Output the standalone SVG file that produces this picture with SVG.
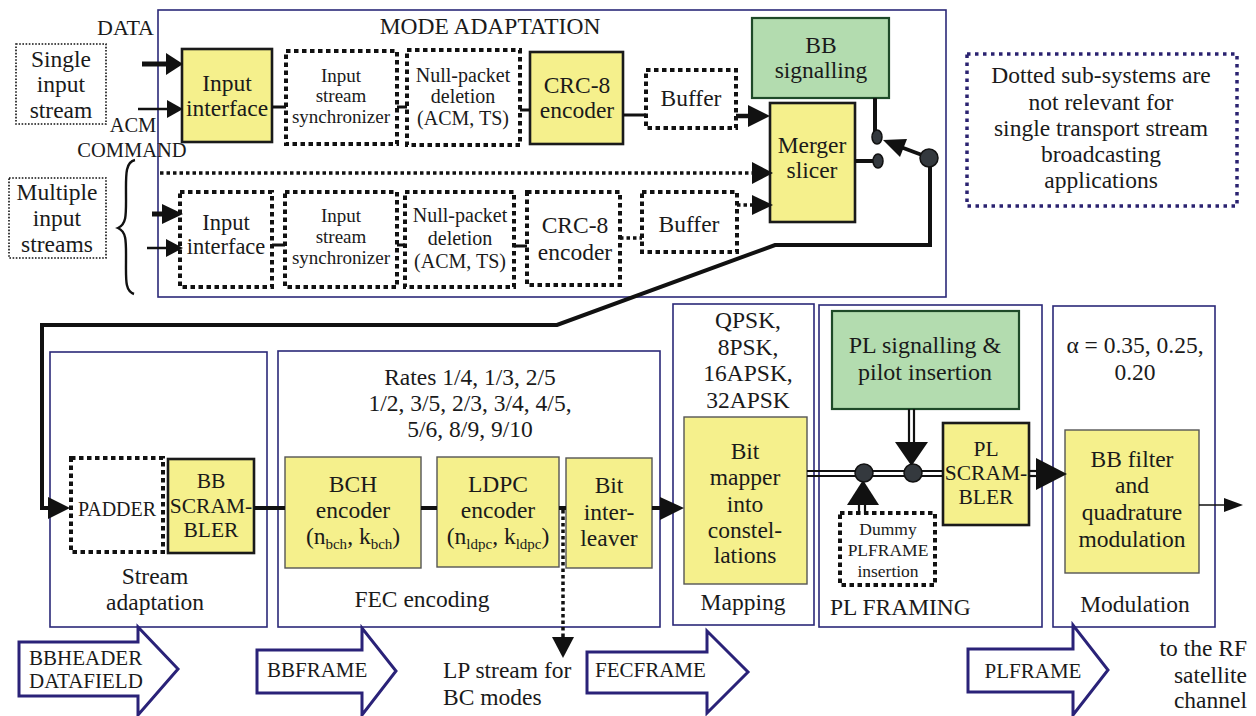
<svg xmlns="http://www.w3.org/2000/svg" width="1256" height="716" viewBox="0 0 1256 716">
<style>
  .t { font-family: "Liberation Serif", Tinos, "DejaVu Serif", "Times New Roman", serif; fill: #1a1a1a; text-anchor: middle; font-size: 23.5px; }
  .s19 { font-size: 19px; }
  .s20 { font-size: 20px; }
  .s21 { font-size: 21px; }
  .s18 { font-size: 17.5px; }
  .st { text-anchor: start; }
  .en { text-anchor: end; }
  .yb { fill: #f5f08c; stroke: #1a1a1a; stroke-width: 2.6; }
  .yl { fill: #f5f08c; stroke: #555; stroke-width: 1.4; }
  .gb { fill: #b3dcaf; stroke: #1e4a28; stroke-width: 2.2; }
  .sec { fill: none; stroke: #2b2878; stroke-width: 1.6; }
  .dot { fill: none; stroke: #111; stroke-width: 4; stroke-dasharray: 4.5 3.5; }
  .tdot { fill: none; stroke: #111; stroke-width: 1.6; stroke-dasharray: 1.6 1.6; }
  .note { fill: none; stroke: #2a2270; stroke-width: 3.5; stroke-dasharray: 3.5 4.5; }
  .frame { fill: #fff; stroke: #2a2278; stroke-width: 3; stroke-linejoin: miter; }
  .w { stroke: #111; stroke-width: 4; fill: none; }
  .w3 { stroke: #111; stroke-width: 3; fill: none; }
  .wd { stroke: #111; stroke-width: 3.5; stroke-dasharray: 3.5 3; fill: none; }
  .hd { fill: #111; }
  .knob { fill: #34393e; stroke: #111; stroke-width: 1.5; }
</style>

<!-- section frames -->
<g id="mode-adaptation">
  <rect class="sec" x="158" y="10" width="788" height="287"/>
  <text class="t" x="490" y="34">MODE ADAPTATION</text>
</g>
<g id="stream-adaptation">
  <rect class="sec" x="50" y="352" width="217" height="275"/>
  <text class="t" x="155" y="584">Stream</text>
  <text class="t" x="155" y="610">adaptation</text>
</g>
<g id="fec-encoding">
  <rect class="sec" x="278" y="351" width="382" height="276"/>
  <text class="t" x="470" y="385">Rates 1/4, 1/3, 2/5</text>
  <text class="t" x="470" y="411">1/2, 3/5, 2/3, 3/4, 4/5,</text>
  <text class="t" x="470" y="437">5/6, 8/9, 9/10</text>
  <text class="t" x="422" y="607">FEC encoding</text>
</g>
<g id="mapping">
  <rect class="sec" x="673" y="304" width="141" height="321"/>
  <text class="t" x="748" y="328">QPSK,</text>
  <text class="t" x="748" y="355">8PSK,</text>
  <text class="t" x="748" y="381">16APSK,</text>
  <text class="t" x="748" y="408">32APSK</text>
  <text class="t" x="743" y="610">Mapping</text>
</g>
<g id="pl-framing">
  <rect class="sec" x="819" y="305" width="223" height="322"/>
  <text class="t st" x="830" y="615">PL FRAMING</text>
</g>
<g id="modulation">
  <rect class="sec" x="1053" y="306" width="162" height="321"/>
  <text class="t" x="1135" y="353">α = 0.35, 0.25,</text>
  <text class="t" x="1135" y="380">0.20</text>
  <text class="t" x="1135" y="612">Modulation</text>
</g>

<!-- free labels -->
<g id="labels">
  <text class="t en" x="154" y="35" style="font-size:22px">DATA</text>
  <text class="t" x="133" y="132" style="font-size:20.5px">ACM</text>
  <text class="t" x="132" y="157" style="font-size:20.5px">COMMAND</text>
  <text class="t st" x="443" y="678">LP stream for</text>
  <text class="t st" x="443" y="705">BC modes</text>
  <text class="t en" x="1247" y="656">to the RF</text>
  <text class="t en" x="1247" y="683">satellite</text>
  <text class="t en" x="1247" y="708">channel</text>
</g>

<!-- input sources -->
<g id="single-input">
  <rect class="tdot" x="16" y="44" width="90" height="80"/>
  <text class="t" x="61" y="67">Single</text>
  <text class="t" x="61" y="92">input</text>
  <text class="t" x="61" y="118">stream</text>
</g>
<g id="multiple-input">
  <rect class="tdot" x="9" y="178" width="97" height="80"/>
  <text class="t" x="57" y="200">Multiple</text>
  <text class="t" x="57" y="226">input</text>
  <text class="t" x="57" y="252">streams</text>
  <path d="M135,160 C125,162 126,176 126,194 C126,214 127,224 118,228 C127,232 126,242 126,262 C126,280 125,291 134,294" fill="none" stroke="#111" stroke-width="2.4"/>
</g>

<!-- upper chain -->
<g id="input-interface">
  <rect class="yb" x="182" y="49" width="90" height="93"/>
  <text class="t" x="227" y="91" style="font-size:23.5px">Input</text>
  <text class="t" x="227" y="116" style="font-size:23.5px">interface</text>
</g>
<g id="sync">
  <rect class="dot" x="286" y="51" width="111" height="93"/>
  <text class="t s19" x="341" y="82">Input</text>
  <text class="t s19" x="341" y="102">stream</text>
  <text class="t s19" x="341" y="123">synchronizer</text>
</g>
<g id="null-packet">
  <rect class="dot" x="407" y="50" width="113" height="95"/>
  <text class="t s20" x="463" y="82">Null-packet</text>
  <text class="t s20" x="463" y="103">deletion</text>
  <text class="t s20" x="463" y="125">(ACM, TS)</text>
</g>
<g id="crc8">
  <rect class="yb" x="530" y="52" width="93" height="92"/>
  <text class="t" x="577" y="93">CRC-8</text>
  <text class="t" x="577" y="118">encoder</text>
</g>
<g id="buffer">
  <rect class="dot" x="646" y="70" width="90" height="58"/>
  <text class="t" x="691" y="106">Buffer</text>
</g>
<g id="bb-signalling">
  <rect class="gb" x="752" y="18" width="137" height="80"/>
  <text class="t" x="821" y="53">BB</text>
  <text class="t" x="821" y="78">signalling</text>
</g>
<g id="merger">
  <rect class="yb" x="770" y="103" width="85" height="119"/>
  <text class="t" x="812" y="153">Merger</text>
  <text class="t" x="812" y="178">slicer</text>
</g>

<!-- lower chain -->
<g id="input-interface-2">
  <rect class="dot" x="180" y="192" width="92" height="95"/>
  <text class="t" x="226" y="230" style="font-size:22.5px">Input</text>
  <text class="t" x="226" y="254" style="font-size:22.5px">interface</text>
</g>
<g id="sync-2">
  <rect class="dot" x="285" y="192" width="112" height="95"/>
  <text class="t s19" x="341" y="222">Input</text>
  <text class="t s19" x="341" y="243">stream</text>
  <text class="t s19" x="341" y="264">synchronizer</text>
</g>
<g id="null-packet-2">
  <rect class="dot" x="405" y="192" width="109" height="95"/>
  <text class="t s20" x="460" y="222">Null-packet</text>
  <text class="t s20" x="460" y="245">deletion</text>
  <text class="t s20" x="460" y="268">(ACM, TS)</text>
</g>
<g id="crc8-2">
  <rect class="dot" x="527" y="192" width="93" height="93"/>
  <text class="t" x="575" y="233">CRC-8</text>
  <text class="t" x="575" y="260">encoder</text>
</g>
<g id="buffer-2">
  <rect class="dot" x="642" y="192" width="95" height="60"/>
  <text class="t" x="689" y="232">Buffer</text>
</g>

<g id="note">
  <rect class="note" x="967" y="54" width="270" height="152"/>
  <text class="t" x="1101" y="83">Dotted sub-systems are</text>
  <text class="t" x="1101" y="110">not relevant for</text>
  <text class="t" x="1101" y="136">single transport stream</text>
  <text class="t" x="1101" y="162">broadcasting</text>
  <text class="t" x="1101" y="188">applications</text>
</g>

<!-- physical layer chain -->
<g id="padder">
  <rect class="dot" x="71" y="458" width="92" height="94"/>
  <text class="t s20" x="117" y="516">PADDER</text>
</g>
<g id="bb-scrambler">
  <rect class="yb" x="168" y="459" width="86" height="94"/>
  <text class="t" x="211" y="488" style="font-size:21.5px">BB</text>
  <text class="t" x="211" y="513" style="font-size:21.5px">SCRAM-</text>
  <text class="t" x="211" y="537" style="font-size:21.5px">BLER</text>
</g>
<g id="bch">
  <rect class="yl" x="285" y="457" width="136" height="111"/>
  <text class="t" x="353" y="492">BCH</text>
  <text class="t" x="353" y="518">encoder</text>
  <text class="t" x="353" y="544">(n<tspan dy="5" font-size="15">bch</tspan><tspan dy="-5">, k</tspan><tspan dy="5" font-size="15">bch</tspan><tspan dy="-5">)</tspan></text>
</g>
<g id="ldpc">
  <rect class="yl" x="437" y="457" width="122" height="110"/>
  <text class="t" x="498" y="492">LDPC</text>
  <text class="t" x="498" y="518">encoder</text>
  <text class="t" x="498" y="544">(n<tspan dy="5" font-size="15">ldpc</tspan><tspan dy="-5">, k</tspan><tspan dy="5" font-size="15">ldpc</tspan><tspan dy="-5">)</tspan></text>
</g>
<g id="interleaver">
  <rect class="yl" x="566" y="458" width="86" height="110"/>
  <text class="t" x="609" y="493">Bit</text>
  <text class="t" x="609" y="520">inter-</text>
  <text class="t" x="609" y="546">leaver</text>
</g>
<g id="bit-mapper">
  <rect class="yl" x="684" y="417" width="123" height="167"/>
  <text class="t" x="745" y="459">Bit</text>
  <text class="t" x="745" y="485">mapper</text>
  <text class="t" x="745" y="512">into</text>
  <text class="t" x="745" y="538">constel-</text>
  <text class="t" x="745" y="563">lations</text>
</g>
<g id="pl-signalling">
  <rect class="gb" x="832" y="311" width="187" height="98"/>
  <text class="t" x="925" y="353" style="font-size:24px">PL signalling &amp;</text>
  <text class="t" x="925" y="380" style="font-size:24px">pilot insertion</text>
</g>
<g id="dummy-plframe">
  <rect class="dot" x="840" y="513" width="95" height="72"/>
  <text class="t s18" x="888" y="535">Dummy</text>
  <text class="t s18" x="888" y="556">PLFRAME</text>
  <text class="t s18" x="888" y="577">insertion</text>
</g>
<g id="pl-scrambler">
  <rect class="yb" x="943" y="423" width="86" height="102"/>
  <text class="t" x="986" y="456" style="font-size:21.5px">PL</text>
  <text class="t" x="986" y="480" style="font-size:21.5px">SCRAM-</text>
  <text class="t" x="986" y="504" style="font-size:21.5px">BLER</text>
</g>
<g id="bb-filter">
  <rect class="yl" x="1065" y="430" width="134" height="143"/>
  <text class="t" x="1132" y="467">BB filter</text>
  <text class="t" x="1132" y="493">and</text>
  <text class="t" x="1132" y="520">quadrature</text>
  <text class="t" x="1132" y="547">modulation</text>
</g>

<!-- frame format arrows -->
<g id="bbheader-arrow">
  <polygon class="frame" points="19,642 138,642 138,627 178,669 138,715 138,696 19,696"/>
  <text class="t st s21" x="29" y="665">BBHEADER</text>
  <text class="t st s21" x="29" y="688">DATAFIELD</text>
</g>
<g id="bbframe-arrow">
  <polygon class="frame" points="257,650 362,650 362,628 396,671 362,715 362,693 257,693"/>
  <text class="t st s21" x="267" y="677">BBFRAME</text>
</g>
<g id="fecframe-arrow">
  <polygon class="frame" points="587,652 707,652 707,631 748,672 707,713 707,693 587,693"/>
  <text class="t st s21" x="595" y="677">FECFRAME</text>
</g>
<g id="plframe-arrow">
  <polygon class="frame" points="968,649 1073,649 1073,625 1108,670 1073,715 1073,692 968,692"/>
  <text class="t s21" x="1033" y="678">PLFRAME</text>
</g>

<g id="connectors">
  <!-- inputs, upper chain -->
  <line x1="142" y1="64" x2="168" y2="64" stroke="#111" stroke-width="5"/>
  <polygon class="hd" points="166,53 166,75 183,64"/>
  <line x1="138" y1="109" x2="170" y2="109" stroke="#111" stroke-width="2.5"/>
  <polygon class="hd" points="167,100 167,118 183,109"/>
  <line class="w3" x1="272" y1="107" x2="286" y2="107"/>
  <line class="w3" x1="397" y1="107" x2="407" y2="107"/>
  <line class="w3" x1="520" y1="110" x2="530" y2="110"/>
  <line class="w3" x1="623" y1="115" x2="646" y2="115"/>
  <line x1="736" y1="116" x2="752" y2="116" stroke="#111" stroke-width="4.5"/>
  <polygon class="hd" points="748,105 748,127 770,116"/>
  <!-- ACM command -->
  <line class="wd" x1="160" y1="173" x2="752" y2="173"/>
  <polygon class="hd" points="752,162 752,184 773,173"/>
  <!-- inputs, lower chain -->
  <line x1="152" y1="214" x2="165" y2="214" stroke="#111" stroke-width="5"/>
  <polygon class="hd" points="162,204 162,224 183,214"/>
  <line x1="147" y1="248" x2="168" y2="248" stroke="#111" stroke-width="2.5"/>
  <polygon class="hd" points="166,239 166,257 183,248"/>
  <line class="w3" x1="272" y1="245" x2="285" y2="245"/>
  <line class="w3" x1="397" y1="245" x2="405" y2="245"/>
  <line class="w3" x1="514" y1="246" x2="527" y2="246"/>
  <line class="wd" x1="620" y1="238" x2="642" y2="238"/>
  <line class="wd" x1="737" y1="205" x2="752" y2="205"/>
  <polygon class="hd" points="752,195 752,215 773,205"/>
  <!-- merger / signalling switch -->
  <line class="w" x1="875" y1="98" x2="875" y2="132" stroke-width="3.5"/>
  <line class="w" x1="855" y1="161" x2="873" y2="161" stroke-width="3.5"/>
  <ellipse class="knob" cx="877" cy="137" rx="5" ry="7"/>
  <ellipse class="knob" cx="878" cy="161" rx="5" ry="7"/>
  <line class="w" x1="922" y1="155" x2="898" y2="146" stroke-width="3.5"/>
  <polygon class="hd" points="883,140 907,139 900,157"/>
  <!-- return path to stream adaptation -->
  <path class="w" stroke-width="3.5" d="M930,165 V245 H775 L557,325 H42 V508 H52"/>
  <circle class="knob" cx="929" cy="158" r="9"/>
  <polygon class="hd" points="48,497 48,519 70,508"/>
  <!-- FEC chain -->
  <line class="w" x1="254" y1="508" x2="285" y2="508"/>
  <line class="w" x1="421" y1="508" x2="437" y2="508"/>
  <line class="w" x1="559" y1="508" x2="566" y2="508"/>
  <line class="w" x1="652" y1="508" x2="662" y2="508"/>
  <polygon class="hd" points="660,497 660,520 684,508"/>
  <line class="wd" x1="563" y1="510" x2="563" y2="638"/>
  <polygon class="hd" points="552,637 574,637 563,658"/>
  <!-- PL framing double bus -->
  <line stroke="#111" stroke-width="2.2" x1="807" y1="471" x2="943" y2="471"/>
  <line stroke="#111" stroke-width="2.2" x1="807" y1="476" x2="943" y2="476"/>
  <line stroke="#111" stroke-width="2.2" x1="909" y1="409" x2="909" y2="443"/>
  <line stroke="#111" stroke-width="2.2" x1="914" y1="409" x2="914" y2="443"/>
  <polygon class="hd" points="895,442 928,442 911.5,466"/>
  <line stroke="#111" stroke-width="2.2" x1="859" y1="504" x2="859" y2="514"/>
  <line stroke="#111" stroke-width="2.2" x1="865" y1="504" x2="865" y2="514"/>
  <polygon class="hd" points="847,505 879,505 863,480"/>
  <circle class="knob" cx="864" cy="473" r="9"/>
  <circle class="knob" cx="913" cy="473" r="9"/>
  <line stroke="#111" stroke-width="2.2" x1="1029" y1="471" x2="1040" y2="471"/>
  <line stroke="#111" stroke-width="2.2" x1="1029" y1="476" x2="1040" y2="476"/>
  <polygon class="hd" points="1036,458 1036,490 1067,474"/>
  <!-- RF output -->
  <line stroke="#111" stroke-width="1.5" x1="1199" y1="505" x2="1226" y2="505"/>
  <polygon class="hd" points="1224,498 1224,512 1243,505"/>
</g>
</svg>
